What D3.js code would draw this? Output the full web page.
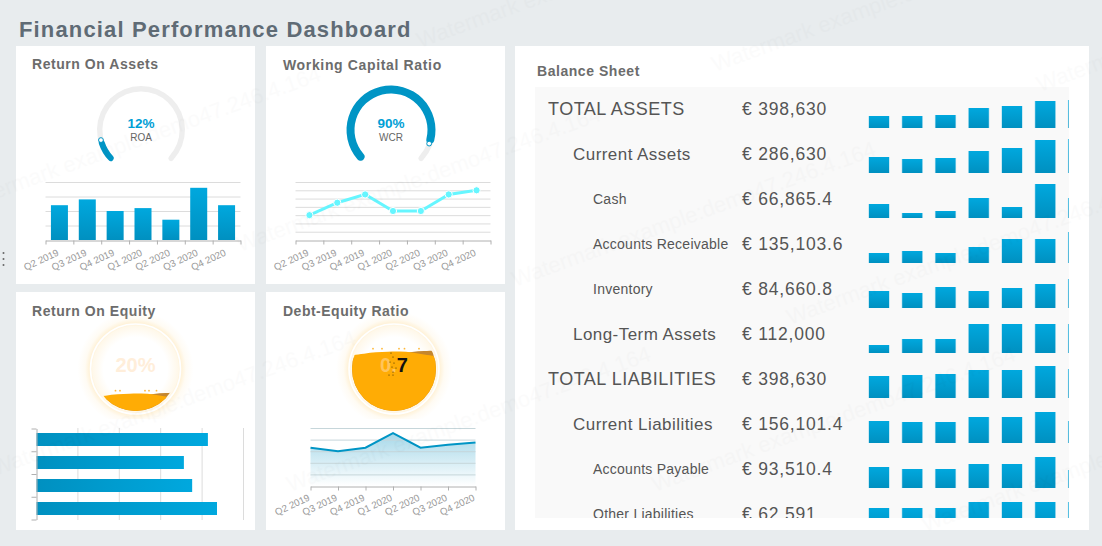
<!DOCTYPE html>
<html><head><meta charset="utf-8">
<script src="https://cdnjs.cloudflare.com/ajax/libs/d3/7.8.5/d3.min.js"></script>
<style>
html,body{margin:0;padding:0;background:#e8ecee;overflow:hidden}
svg{display:block}
text{font-family:"Liberation Sans",Arial,sans-serif}
</style></head><body><div id="c"></div>
<script>
const quarters=["Q2 2019","Q3 2019","Q4 2019","Q1 2020","Q2 2020","Q3 2020","Q4 2020"];
const roaValues=[12,14,10,11,7,18,12];
const wcrValues=[0.6,0.9,1.1,0.7,0.7,1.1,1.2];
const roeValues=[20.7,17.8,18.8,21.8];
const derValues=[0.66,0.6,0.66,0.91,0.66,0.71,0.75];
const roaKpi=0.12, wcrKpi=0.90, roeKpi=0.20, derKpi=0.70;
const rowLabels=["TOTAL ASSETS","Current Assets","Cash","Accounts Receivable","Inventory","Long-Term Assets","TOTAL LIABILITIES","Current Liabilities","Accounts Payable","Other Liabilities"];
const rowLevels=[0,1,2,2,2,1,0,1,2,2];
const rowAmounts=["€ 398,630","€ 286,630","€ 66,865.4","€ 135,103.6","€ 84,660.8","€ 112,000","€ 398,630","€ 156,101.4","€ 93,510.4","€ 62,591"];
const rowBars=[
[12,12,13,20,22,27,28],[16,14,15,22,25,33,34],[14,5,7,20,11,34,20],[10,12,10,16,24,24,31],[17,15,21,17,20,24,29],
[8,14,14,29,29,29,29],[22,23,24,28,28,32,29],[22,21,21,26,26,31,22],[21,19,19,24,24,31,18],[25,25,25,31,31,31,31]];
const frontWave=[3,1.5,0,-0.5,-0.8,0.2,2.5,4];
const backWave=[5,5,4,3,1.5,-0.5,-1.2,-1.5];
const roeDrops=[-20,-15.5,9.5,13.5,21];
const derDrops=[-21,-12,5,10.5,25];
const derSpecks=[[-3,-16],[-1,-12],[-4,-7],[0,-6],[-2,-2],[2,-1],[-1,3],[-5,6],[-1,6]];
const watermarks=[[-40,212],[240,252],[515,287],[790,325],[-5,476],[290,492],[655,492],[925,532],[420,48],[715,72],[1040,92]];

const W=1102,H=546;
const svg=d3.select("#c").append("svg").attr("width",W).attr("height",H);
const defs=svg.append("defs");
function grad(id,x2,y2,a,b){const g=defs.append("linearGradient").attr("id",id).attr("x1",0).attr("y1",0).attr("x2",x2).attr("y2",y2);
 g.append("stop").attr("offset",0).attr("stop-color",a);g.append("stop").attr("offset",1).attr("stop-color",b);}
grad("gv",0,1,"#00a8de","#0090c0");
grad("gh",1,0,"#0090c0","#00a8de");
grad("ga",0,1,"#a6d8e9","#ffffff");
const rg=defs.append("radialGradient").attr("id","glow");
[[0.55,0],[0.74,0.22],[0.78,0.45],[0.87,0.12],[1,0]].forEach(([o,a])=>rg.append("stop").attr("offset",o).attr("stop-color","#ffdf9f").attr("stop-opacity",a));

const cards=[[16,46,239,238],[266,46,239,238],[16,292,239,238],[266,292,239,238],[515,46,574,484]];
svg.selectAll("rect.card").data(cards).join("rect").attr("class","card").attr("x",d=>d[0]).attr("y",d=>d[1]).attr("width",d=>d[2]).attr("height",d=>d[3]).attr("fill","#fff");

svg.append("text").attr("x",19).attr("y",37).attr("font-size",22).attr("font-weight","bold").attr("fill","#5f6b75").attr("letter-spacing","1.15px").text("Financial Performance Dashboard");
[["Return On Assets",32,69,.55],["Working Capital Ratio",283,70,.65],["Return On Equity",32,316,.55],["Debt-Equity Ratio",283,316,.5],["Balance Sheet",537,76,.55]].forEach(t=>{
 svg.append("text").attr("x",t[1]).attr("y",t[2]).attr("font-size",14).attr("font-weight","bold").attr("fill","#6c6c6c").attr("letter-spacing",t[3]+"px").text(t[0]);});

[253,259,265].forEach(y=>svg.append("circle").attr("cx",3.5).attr("cy",y).attr("r",1).attr("fill","#666"));

// gauges
function gauge(cx,cy,val,pct,name,R,thick){
 const g=svg.append("g").attr("transform",`translate(${cx},${cy})`);
 const a=d3.scaleLinear().domain([0,1]).range([-137*Math.PI/180,137*Math.PI/180]);
 g.append("path").attr("d",d3.arc().innerRadius(41.3-2.7).outerRadius(41.3+2.7).startAngle(a(0)).endAngle(a(1)).cornerRadius(2.7)()).attr("fill","#eeeeee");
 g.append("path").attr("d",d3.arc().innerRadius(R-thick/2).outerRadius(R+thick/2).startAngle(a(0)).endAngle(a(val)).cornerRadius(thick/2)()).attr("fill","#0095c5");
 const e=a(val);
 g.append("circle").attr("cx",R*Math.sin(e)).attr("cy",-R*Math.cos(e)).attr("r",2.4).attr("fill","#fff").attr("stroke","#0095c5").attr("stroke-width",1);
 g.append("text").attr("text-anchor","middle").attr("y",-2).attr("font-size",13.5).attr("font-weight","bold").attr("fill","#00a0d6").text(pct);
 g.append("text").attr("text-anchor","middle").attr("y",10.5).attr("font-size",10).attr("fill","#666").text(name);
}
gauge(141,130,roaKpi,"12%","ROA",41.3,6);
gauge(391,130,wcrKpi,"90%","WCR",40.5,8);

function qLabels(xf,y){
 svg.append("g").selectAll("text").data(quarters).join("text").attr("text-anchor","end").attr("font-size",9.7).attr("fill","#999")
  .attr("transform",(d,i)=>`translate(${xf(d,i)},${y}) rotate(-25)`).text(d=>d);
}
function edgeAxis(x0,x1,y,n){
 const s=d3.scaleLinear().domain([0,n]).range([x0,x1]);
 const ax=svg.append("g").attr("transform",`translate(0,${y})`).call(d3.axisBottom(s).ticks(n).tickSize(4).tickSizeOuter(0).tickFormat(""));
 ax.selectAll("path,line").attr("stroke","#b0b0b0");
}
function grid(x0,x1,ys,c){svg.append("g").selectAll("line").data(ys).join("line").attr("x1",x0).attr("x2",x1).attr("y1",d=>d+.5).attr("y2",d=>d+.5).attr("stroke",c||"#dcdcdc");}

// ROA bars
{const x=d3.scaleBand().domain(quarters).range([45.5,240.5]);
 const y=d3.scaleLinear().domain([0,20]).range([240,182]);
 grid(45.5,240.5,y.ticks(4).filter(v=>v>0).map(y));
 svg.append("g").selectAll("rect").data(roaValues).join("rect").attr("x",(d,i)=>x(quarters[i])+x.bandwidth()/2-8.5).attr("width",17)
  .attr("y",d=>y(d)).attr("height",d=>y(0)-y(d)).attr("fill","url(#gv)");
 edgeAxis(45.5,240.5,240.5,7);
 qLabels(d=>x(d)+x.bandwidth()/2,255);}

// WCR line
{const x=d3.scaleBand().domain(quarters).range([295.5,490.5]);
 const y=d3.scaleLinear().domain([0,1.4]).range([240,182]);
 grid(295.5,490.5,y.ticks(7).filter(v=>v>0).map(y));
 const px=(d,i)=>x(quarters[i])+x.bandwidth()/2;
 svg.append("path").attr("d",d3.line().x(px).y(d=>y(d))(wcrValues)).attr("fill","none").attr("stroke","#66f6ff").attr("stroke-width",3);
 svg.append("g").selectAll("circle").data(wcrValues).join("circle").attr("cx",px).attr("cy",d=>y(d)).attr("r",3.6).attr("fill","#66f6ff").attr("stroke","#fff").attr("stroke-width",1);
 edgeAxis(295.5,490.5,240.5,7);
 qLabels(d=>x(d)+x.bandwidth()/2,255);}

// ROE horizontal bars
{const x=d3.scaleLinear().domain([0,25]).range([36.5,243.5]);
 const y=d3.scaleBand().domain(d3.range(4)).range([428,520]);
 svg.append("g").selectAll("line").data(x.ticks(5).filter(v=>v>0)).join("line").attr("x1",d=>x(d)).attr("x2",d=>x(d)).attr("y1",428).attr("y2",520).attr("stroke","#dcdcdc");
 svg.append("g").selectAll("rect").data(roeValues).join("rect").attr("x",x(0)).attr("y",(d,i)=>y(i)+5).attr("height",13).attr("width",d=>x(d)-x(0)).attr("fill","url(#gh)");
 const s=d3.scaleLinear().domain([0,4]).range([428.5,519.5]);
 const ax=svg.append("g").attr("transform","translate(36.5,0)").call(d3.axisLeft(s).ticks(4).tickSize(5).tickSizeOuter(0).tickFormat(""));
 ax.selectAll("path,line").attr("stroke","#b0b0b0");}

// DER area
{const x=d3.scalePoint().domain(quarters).range([310.5,475.5]);
 const y=d3.scaleLinear().domain([0,1]).range([486,428]);
 const px=(d,i)=>x(quarters[i]);
 svg.append("path").attr("d",d3.area().x(px).y0(y(0)).y1(d=>y(d))(derValues)).attr("fill","url(#ga)");
 grid(310.5,475.5,y.ticks(5).filter(v=>v>0).map(y),"#c6d6da");
 svg.append("path").attr("d",d3.line().x(px).y(d=>y(d))(derValues)).attr("fill","none").attr("stroke","#0095c5").attr("stroke-width",2);
 edgeAxis(310.5,475.5,486.5,6);
 qLabels(d=>x(d),500);}

// liquid fill
function liquid(cx,cy,val,id,parts,drops,specks){
 const R=42, g=svg.append("g").attr("transform",`translate(${cx},${cy})`);
 defs.append("clipPath").attr("id",id).append("circle").attr("r",R);
 defs.append("clipPath").attr("id",id+"g").append("rect").attr("x",-70).attr("y",-70).attr("width",140).attr("height",120);
 g.append("circle").attr("r",58).attr("fill","url(#glow)").attr("clip-path",`url(#${id}g)`);
 g.append("circle").attr("r",45).attr("fill","none").attr("stroke","#fff").attr("stroke-width",1.6);
 const lv=d3.scaleLinear().domain([0,1]).range([R,-R]);
 const wx=d3.scaleLinear().domain([0,frontWave.length-1]).range([-R,R]);
 const wave=a=>d3.area().x((d,i)=>wx(i)).y0(R).y1(d=>lv(val)+d).curve(d3.curveBasis)(a);
 const l=g.append("g").attr("clip-path",`url(#${id})`);
 l.append("path").attr("d",wave(backWave)).attr("fill","#c4862e");
 l.append("path").attr("d",wave(frontWave)).attr("fill","#ffac05");
 const t=g.append("text").attr("text-anchor","middle").attr("y",3).attr("font-size",20).attr("font-weight","bold");
 parts.forEach(p=>t.append("tspan").attr("fill",p[1]).text(p[0]));
 g.append("g").selectAll("circle").data(drops).join("circle").attr("cx",d=>d).attr("cy",lv(val)-3.5).attr("r",.9).attr("fill","#ffb93a");
 g.append("g").selectAll("circle").data(specks).join("circle").attr("cx",d=>d[0]).attr("cy",d=>d[1]).attr("r",.6).attr("fill","#3a2a00");
}
liquid(135.5,369,roeKpi,"lq1",[["20%","#ffeeda"]],roeDrops,[]);
liquid(394,369,derKpi,"lq2",[["0.","#ffc45a"],["7","#111"]],derDrops,derSpecks);

// Table
svg.append("rect").attr("x",535).attr("y",87).attr("width",534).attr("height",431).attr("fill","#f9f9f9");
defs.append("clipPath").attr("id","tb").append("rect").attr("x",535).attr("y",87).attr("width",534).attr("height",431);
{const tb=svg.append("g").attr("clip-path","url(#tb)");
 const ry=d3.scaleBand().domain(d3.range(rowLabels.length)).range([87,537]);
 const lx=[548,573,593], ls=[18,17,14], sp=[.5,.45,.25];
 const rows=tb.selectAll("g.r").data(rowLabels).join("g").attr("class","r").attr("transform",(d,i)=>`translate(0,${ry(i)})`);
 rows.append("text").attr("x",(d,i)=>lx[rowLevels[i]]).attr("y",(d,i)=>rowLevels[i]==2?27:28).attr("font-size",(d,i)=>ls[rowLevels[i]]).attr("fill","#555")
  .attr("letter-spacing",(d,i)=>sp[rowLevels[i]]+"px").text(d=>d);
 rows.append("text").attr("x",742).attr("y",28).attr("font-size",17.5).attr("fill","#555").attr("letter-spacing","0.8px").text((d,i)=>rowAmounts[i]);
 const bx=d3.scalePoint().domain(d3.range(7)).range([869,1068.5]);
 const bh=d3.scaleLinear().domain([0,34]).range([0,34]);
 rows.each(function(d,i){
  const g=d3.select(this);
  g.selectAll("rect.h").data(rowBars[i]).join("rect").attr("class","h").attr("x",(v,j)=>bx(j)-.6).attr("width",21.2).attr("y",v=>41-bh(v)).attr("height",v=>bh(v)).attr("fill","#00a0d6").attr("opacity",.3);
  g.selectAll("rect.b").data(rowBars[i]).join("rect").attr("class","b").attr("x",(v,j)=>bx(j)).attr("width",20).attr("y",v=>41-bh(v)).attr("height",v=>bh(v)).attr("fill","url(#gv)");
 });}

// watermark
svg.append("g").attr("pointer-events","none").selectAll("text").data(watermarks).join("text")
 .attr("transform",d=>`translate(${d[0]},${d[1]}) rotate(-20)`).attr("font-size",22).attr("fill","#000").attr("opacity",.012).text("Watermark example:demo47.246.4.164");
</script></body></html>
